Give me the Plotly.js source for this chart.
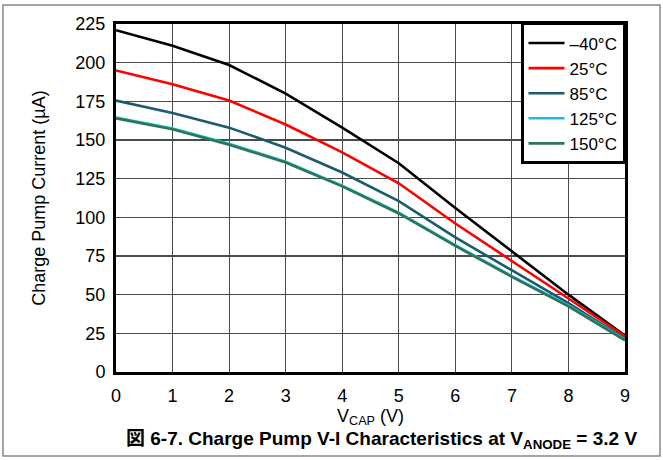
<!DOCTYPE html>
<html>
<head>
<meta charset="utf-8">
<script src="https://cdn.plot.ly/plotly-3.0.1.min.js"></script>
<style>
  html, body { margin: 0; padding: 0; background: #fff; }
  #chart { width: 663px; height: 460px; }
</style>
</head>
<body>
<div id="chart"></div>
<script>
const vcap = [0, 1, 2, 3, 4, 5, 6, 7, 8, 9];
const seriesNames = ['\u201340\u00B0C', '25\u00B0C', '85\u00B0C', '125\u00B0C', '150\u00B0C'];
const iM40 = [221, 211, 198.5, 180, 158, 135, 106, 78, 50, 23.5];
const i25  = [195, 186, 175.5, 160, 142, 122, 96, 72, 47.5, 23];
const i85  = [175.5, 167.5, 158, 145, 129, 110.5, 87, 65.5, 44.5, 21.5];
const i125 = [164.5, 157.5, 147.5, 136, 120.5, 103, 82, 62, 43, 21];
const i150 = [164, 157, 147, 135.5, 120, 102.5, 81.5, 61.5, 42.5, 20.5];
const yTicks = [0, 25, 50, 75, 100, 125, 150, 175, 200, 225];
const xTicks = [0, 1, 2, 3, 4, 5, 6, 7, 8, 9];

const colors = ['#000000', '#ff0000', '#1b5b70', '#17bfd6', '#2d7558'];
const seriesData = [iM40, i25, i85, i125, i150];

const traces = seriesData.map((ys, k) => ({
  x: vcap, y: ys, name: seriesNames[k], type: 'scatter', mode: 'lines',
  line: { color: colors[k], width: 2.6 }
}));

const W = 663, H = 460;
const m = { l: 116, r: 38, t: 24, b: 88 };
const pw = W - m.l - m.r, ph = H - m.t - m.b;
const px = v => (v - m.l) / pw;
const py = v => (H - m.b - v) / ph;

const fam = 'Liberation Sans, Arial, sans-serif';
const font = { family: fam, size: 18, color: '#000' };

const layout = {
  width: W, height: H,
  margin: m,
  paper_bgcolor: '#fff', plot_bgcolor: '#fff',
  font: font,
  showlegend: true,
  legend: {
    x: 1, xanchor: 'right', y: 1.003, yanchor: 'top',
    bgcolor: '#fff', bordercolor: '#000', borderwidth: 2.5,
    font: { family: fam, size: 17, color: '#000' },
    tracegroupgap: 0, itemwidth: 36
  },
  xaxis: {
    range: [0, 9], tickvals: xTicks, ticktext: xTicks.map(String),
    showgrid: true, gridcolor: '#4a4a4a', gridwidth: 1.2,
    zeroline: false, showline: true, linecolor: '#000', linewidth: 3, mirror: true,
    ticks: '', tickfont: { size: 18 }, ticklabelstandoff: 5,
    title: { text: 'V<sub>CAP</sub> (V)', font: { size: 18 }, standoff: 0 }
  },
  yaxis: {
    range: [0, 225], tickvals: yTicks, ticktext: yTicks.map(String),
    showgrid: true, gridcolor: '#4a4a4a', gridwidth: 1.2,
    zeroline: false, showline: true, linecolor: '#000', linewidth: 3, mirror: true,
    ticks: '', tickfont: { size: 18 }, ticklabelstandoff: 4,
    title: { text: 'Charge Pump Current (\u00B5A)', font: { size: 18 }, standoff: 26 }
  },
  shapes: [{
    type: 'rect', xref: 'paper', yref: 'paper', layer: 'below',
    x0: px(3), x1: px(660), y0: py(5), y1: py(456),
    line: { color: '#888', width: 1.5 }, fillcolor: 'rgba(0,0,0,0)'
  }],
  annotations: [{
    xref: 'paper', yref: 'paper', x: px(381), y: py(440),
    xanchor: 'center', yanchor: 'middle', showarrow: false,
    text: '<b>\u56F3 6-7. Charge Pump V-I Characteristics at V<sub>ANODE</sub> = 3.2 V</b>',
    font: { family: 'Liberation Sans, Arial, "Noto Sans CJK JP", sans-serif', size: 19, color: '#000' }
  }]
};

Plotly.newPlot('chart', traces, layout, { displayModeBar: false, staticPlot: true });
</script>
</body>
</html>
